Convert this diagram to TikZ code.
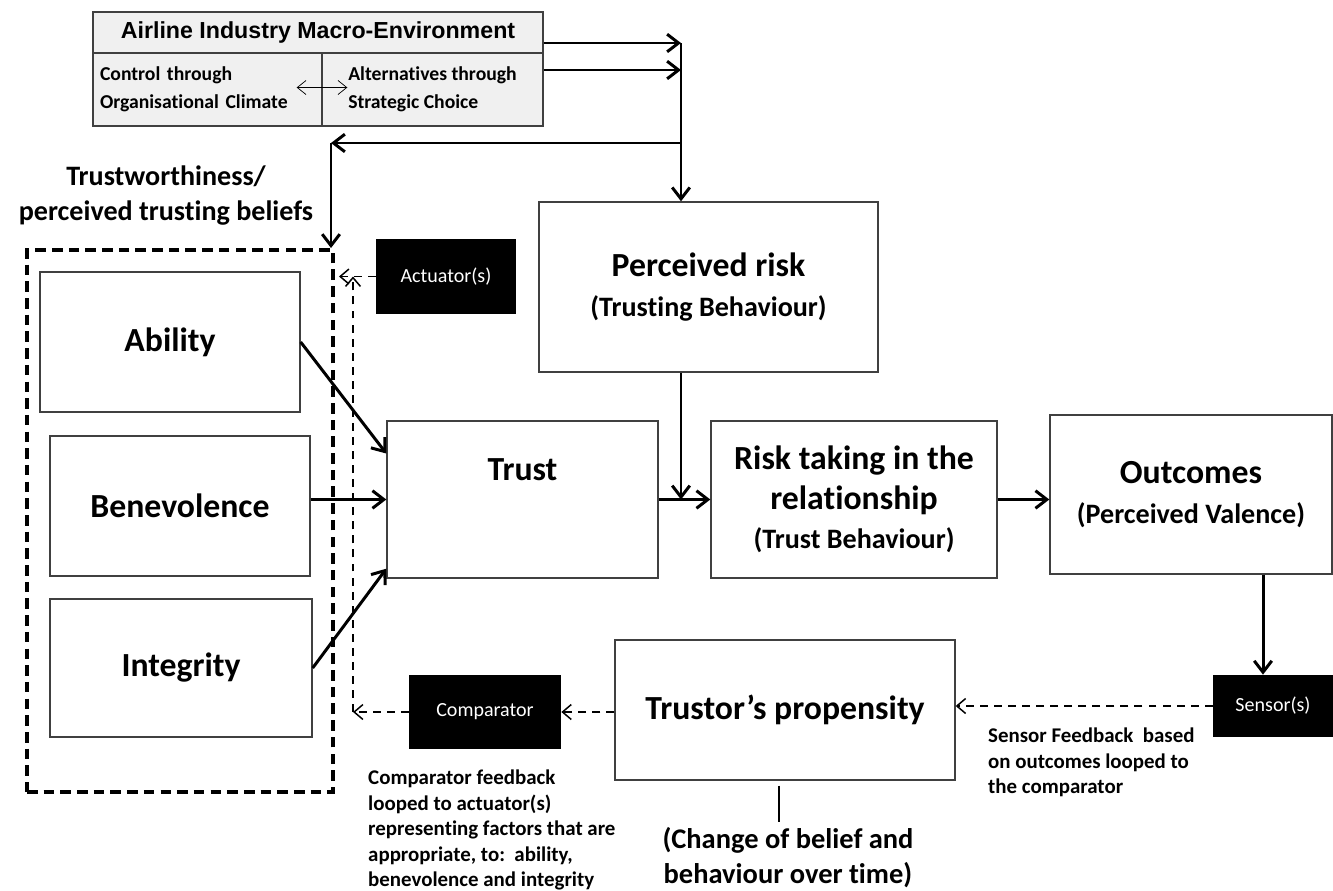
\documentclass[tikz,border=0pt]{standalone}
\usepackage{fontspec}
\setmainfont{Carlito}[Ligatures=CommonOff]
\newfontfamily\arialfont{Liberation Sans}
\usetikzlibrary{arrows.meta,positioning,calc}
\newcommand{\subtxt}{\bfseries\fontsize{16}{19}\selectfont}

\begin{document}
\begin{tikzpicture}[
    x=0.02cm, y=-0.02cm,
    box/.style={rectangle, draw=black!75, line width=0.8pt, fill=white, align=center, font=\bfseries\fontsize{19.2}{22.5}\selectfont},
    envbox/.style={rectangle, draw=black!75, line width=0.8pt, fill=black!6},
    blackbox/.style={rectangle, fill=black, text=white, font=\fontsize{11.4}{13}\selectfont},
    arrow/.style={-{Straight Barb[length=6.5pt,width=10pt]}, line width=1.7pt},
    darrow/.style={-{Straight Barb[length=5pt,width=8.5pt]}, dash pattern=on 4.5pt off 3.5pt, line width=0.85pt},
    note/.style={align=left, font=\bfseries\fontsize{11.9}{14.5}\selectfont}
]
    \useasboundingbox (0,0) rectangle (1333,890);

    % Macro-environment (top)
    \node[envbox, minimum width=9cm, minimum height=0.82cm, font=\arialfont\bfseries\fontsize{13.2}{15}\selectfont] (env) at (318,32.5) {Airline Industry Macro-Environment};
    \node[envbox, text width=4.3cm, inner xsep=0.14cm, minimum height=1.46cm, align=left, font=\bfseries\fontsize{11.2}{15.9}\selectfont] (ctrl) at (207.5,89.5) {Control through\\Organisational Climate};
    \node[envbox, minimum width=4.42cm, minimum height=1.46cm, align=left, font=\bfseries\fontsize{11.2}{15.9}\selectfont] (alt) at (432.5,89.5) {Alternatives through\\Strategic Choice};
    \draw[{Straight Barb[length=5pt,width=8pt]}-{Straight Barb[length=5pt,width=8pt]}, line width=0.4pt] ($(ctrl.east)+(-26,-2)$) -- ($(alt.west)+(26,-2)$);

    % Trustworthiness (left column)
    \node[font=\bfseries\fontsize{16}{19.8}\selectfont, align=center] (twl) at (166,195.5) {Trustworthiness/\\perceived trusting beliefs};
    \node[draw, line width=2.3pt, dash pattern=on 6pt off 3.5pt, minimum width=6.12cm, minimum height=10.84cm] (tw) at (180,521) {};
    \node[box, minimum width=5.2cm, minimum height=2.8cm] (abl) at (170,342) {Ability};
    \node[box, minimum width=5.2cm, minimum height=2.8cm] (ben) at (180,506) {Benevolence};
    \node[box, minimum width=5.24cm, minimum height=2.76cm] (int) at (181,668) {Integrity};

    % Middle and right
    \node[blackbox, minimum width=2.8cm, minimum height=1.5cm] (act) at (446,276.5) {Actuator(s)};
    \node[box, minimum width=6.78cm, minimum height=3.4cm] (risk) at (708.5,287) {Perceived risk\\{\subtxt (Trusting Behaviour)}};
    \node[box, minimum width=5.42cm, minimum height=3.14cm, text depth=1.2cm] (trust) at (522.5,499.5) {Trust};
    \node[box, minimum width=5.72cm, minimum height=3.14cm] (rt) at (854,499.5) {Risk taking in the\\relationship\\{\subtxt (Trust Behaviour)}};
    \node[box, minimum width=5.64cm, minimum height=3.18cm] (out) at (1191,494.5) {Outcomes\\{\subtxt (Perceived Valence)}};

    % Feedback loop (bottom)
    \node[blackbox, minimum width=2.4cm, minimum height=1.24cm] (sen) at (1273,706) {Sensor(s)};
    \node[box, minimum width=6.8cm, minimum height=2.8cm] (prop) at (785,710) {Trustor’s propensity};
    \node[blackbox, minimum width=3.04cm, minimum height=1.48cm] (cmp) at (485,712) {Comparator};
    \node[font=\bfseries\fontsize{16.2}{20}\selectfont, align=center] (chg) at (788,858) {(Change of belief and\\behaviour over time)};
    \node[note, anchor=north west] (cmpnote) at (362,764) {Comparator feedback\\looped to actuator(s)\\representing factors that are\\appropriate, to:\ \ ability,\\benevolence and integrity};
    \node[note, anchor=north west] (sennote) at (982,722) {Sensor Feedback\ \ based\\on outcomes looped to\\the comparator};

    % Solid connectors
    \coordinate (jt) at (681,43);
    \coordinate (jm) at (681,70);
    \coordinate (jl) at (681,143);
    \coordinate (cl) at (331,143);
    \draw[arrow] (env.east |- jt) -- (jt);
    \draw[arrow] (alt.east |- jm) -- (jm);
    \draw[arrow] (jt) -- (jt |- risk.north);
    \draw[arrow] (jl) -- (cl);
    \draw[arrow] (cl) -- (cl |- tw.north);
    \draw[arrow] (abl.east) -- ($(trust.west)+(0,-46)$);
    \draw[arrow] (ben.east |- trust.west) -- (trust.west);
    \draw[arrow] (int.east) -- ($(trust.south west)+(0,-10)$);
    \draw[arrow] (jt |- risk.south) -- (jt |- trust.east);
    \draw[arrow] (trust.east) -- (rt.west);
    \draw[arrow] (rt.east) -- (out.west |- rt.east);
    \coordinate (os) at ($(out.south)+(72,0)$);
    \draw[arrow] (os) -- (os |- sen.north);
    \draw[line width=1.7pt] ($(prop.south)+(-6,5)$) -- ($(chg.north)+(-9,0)$);

    % Dashed feedback connectors
    \coordinate (fb) at (353,712);
    \draw[darrow] (sen.west) -- (prop.east |- sen.west);
    \draw[darrow] (prop.west |- cmp.east) -- (cmp.east);
    \draw[darrow] (cmp.west) -- (fb);
    \draw[darrow] (fb) -- (fb |- act.west);
    \draw[darrow] (act.west) -- ($(tw.east |- act.west)+(4,0)$);
\end{tikzpicture}
\end{document}
